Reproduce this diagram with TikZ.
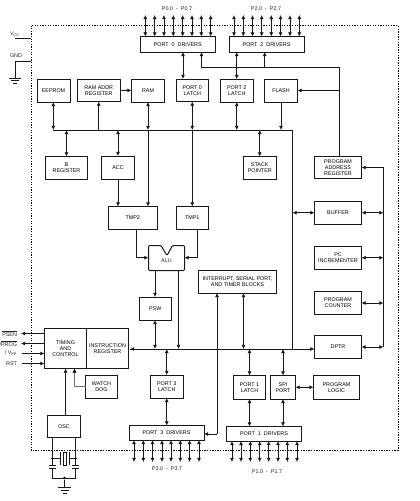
\documentclass[tikz,border=0pt]{standalone}
\usepackage{fontspec}
\setmainfont{Liberation Sans}
\usetikzlibrary{arrows.meta,calc}
\newcommand{\ovl}[1]{\ensuremath{\overline{\mbox{#1}}}}
\newcommand{\bx}[6]{\node[blk,minimum width={(#4-#2)*1pt},minimum height={(#5-#3)*1pt}] (#1) at ({(#2+#4)/2},{(#3+#5)/2}) {#6};}
\tikzset{
  x=1pt,y=-1pt,
  blk/.style={draw=black!90,line width=1pt,inner sep=0pt,outer sep=0pt,align=center,font=\fontsize{5.4}{6}\selectfont},
  lbl/.style={inner sep=0pt,outer sep=0pt,align=center,font=\fontsize{5.4}{6}\selectfont,text=black!85},
  wire/.style={draw=black!90,line width=0.9pt,>={Latex[length=4.2pt,width=4.2pt]}},
  thin wire/.style={draw=black!55,line width=0.5pt,-{Latex[length=4.2pt,width=4.2pt,black]}},
  frame/.style={draw=black,line width=0.9pt,dash pattern=on 1.3pt off 1.3pt},
  dotn/.style={circle,fill=black,inner sep=0pt,minimum size=2.6pt}
}
\begin{document}
\begin{tikzpicture}
\useasboundingbox (0,0) rectangle (420,501);
\fill[white] (0,0) rectangle (420,501);
\draw[frame] (31,25.5) rectangle (398,450);
% boxes
\bx{pzd}{140}{36.5}{215.5}{52}{PORT\ \ 0\ \ DRIVERS}
\bx{ptd}{229}{36.5}{304}{52}{PORT\ \ 2\ \ DRIVERS}
\bx{eeprom}{37}{79}{70}{102}{EEPROM}
\bx{addr}{77.5}{79}{120}{101.5}{RAM ADDR\\REGISTER}
\bx{ram}{131.5}{79}{164.5}{102}{RAM}
\bx{pzl}{176}{79}{208.5}{101.5}{PORT 0\\LATCH}
\bx{ptl}{220}{79}{253.5}{102}{PORT 2\\LATCH}
\bx{flash}{264.5}{79}{297.5}{102}{FLASH}
\bx{breg}{45.5}{156.5}{87.5}{179}{B\\REGISTER}
\bx{acc}{101.5}{156}{134.5}{179}{ACC}
\bx{stack}{243}{156.5}{276.5}{179.5}{STACK\\POINTER}
\bx{par}{314.5}{156}{361.5}{178.5}{PROGRAM\\ADDRESS\\REGISTER}
\bx{buffer}{314.5}{201.5}{361.5}{224}{BUFFER}
\bx{pcinc}{314.5}{246.5}{361.5}{269}{PC\\INCREMENTER}
\bx{pc}{314.5}{291.5}{361.5}{314.5}{PROGRAM\\COUNTER}
\bx{dptr}{314.5}{335}{361.5}{358.5}{DPTR}
\bx{tmpb}{108.5}{206.5}{157}{229}{TMP2}
\bx{tmpa}{176}{206.5}{208.5}{229}{TMP1}
\bx{psw}{139}{297}{171.5}{320}{PSW}
\bx{intr}{198.5}{270}{276.5}{293}{INTERRUPT, SERIAL PORT,\\AND TIMER BLOCKS}
\bx{timing}{44.5}{328.5}{86.5}{368.5}{TIMING\\AND\\CONTROL}
\bx{instr}{86.5}{328.5}{128.5}{368.5}{INSTRUCTION\\REGISTER}
\bx{wdog}{85.5}{375}{117.5}{398}{WATCH\\DOG}
\bx{osc}{47.5}{415}{80.5}{437.5}{OSC}
\bx{pthl}{150}{375}{183.5}{398}{PORT 3\\LATCH}
\bx{pthd}{129}{425.5}{204}{440}{PORT\ \ 3\ \ DRIVERS}
\bx{pol}{233.5}{375.5}{265.5}{399}{PORT 1\\LATCH}
\bx{spi}{270.5}{375.5}{295.5}{399}{SPI\\PORT}
\bx{pod}{226.5}{426.5}{301.5}{441}{PORT\ \ 1\ \ DRIVERS}
\bx{logic}{313.5}{375.5}{359.5}{399}{PROGRAM\\LOGIC}
% ALU
\draw[blk,rounded corners=1pt] (148.5,245.5) -- (161,245.5) -- (167,255.5) -- (172.5,245.5) -- (184.5,245.5) -- (184.5,270.5) -- (148.5,270.5) -- cycle;
\node[lbl] (alu) at (166.5,261) {ALU};
\coordinate (aluL) at (148.5,257.7);
\coordinate (aluR) at (184.5,257.7);
\coordinate (aluBa) at (155,270.5);
\coordinate (aluBb) at (178.5,270.5);
% labels
\node[lbl] (pzlab) at (177,9) {P0.0\ \ -\ \ P0.7};
\node[lbl] (ptlab) at (266,9) {P2.0\ \ -\ \ P2.7};
\node[lbl] (pthlab) at (167,469) {P3.0\ \ -\ \ P3.7};
\node[lbl] (polab) at (267,472) {P1.0\ \ -\ \ P1.7};
\node[lbl,anchor=west] (vcc) at (10,34) {V\textsubscript{CC}};
\node[lbl,anchor=west] (gnd) at (10,56) {GND};
\node[lbl,anchor=east] (psen) at (17,333.5) {\ovl{PSEN}};
\node[lbl,anchor=east] (prog) at (17,343.5) {/\ovl{PROG}};
\node[lbl,anchor=east] (vpp) at (17,353.5) {/ V\textsubscript{PP}};
\node[lbl,anchor=east] (rst) at (17,363.5) {RST};
% bus points
\coordinate (busW) at (53.3,130);
\coordinate (busE) at (292.5,130);
\coordinate (lowW) at (130,349);
\coordinate (lowE) at (292.5,349);
\coordinate (rbusN) at (383.5,167.5);
\coordinate (rbusS) at (383.5,347);
\coordinate (topE) at (339,67.5);
\coordinate (topW) at (201.5,67.5);
% power
\draw[wire] (31,38.5) -- (15,38.5);
\draw[wire] (31,61) -- (15,61) -- (15,78) coordinate (gndp);
\draw[wire] ($(gndp)+(-6,0)$) -- ($(gndp)+(6,0)$);
\draw[wire] ($(gndp)+(-4,2.5)$) -- ($(gndp)+(4,2.5)$);
\draw[wire] ($(gndp)+(-2,5)$) -- ($(gndp)+(2,5)$);
% pin arrows
\foreach \x in {145.3,154.7,164,173.3,182.7,192,201.3,210.7}{\draw[wire,<->] (\x,15) -- (\x,36.5);}
\foreach \x in {234,243.3,252.5,261.7,271.3,280.5,290,299.3}{\draw[wire,<->] (\x,15) -- (\x,36.5);}
\foreach \x in {134,143.3,152.5,162,171,180.3,189.5,199}{\draw[wire,<->] (\x,440) -- (\x,462);}
\foreach \x in {232,241,250.3,259.7,268.7,278,287.3,297}{\draw[wire,<->] (\x,441) -- (\x,462);}
% main bus
\draw[wire] (busW) -- (busE) -- (lowE);
\draw[wire,->] (lowW) -- (dptr.west |- lowW);
\draw[wire,->] (lowE |- lowW) -- (lowW);
\draw[wire,<->] (eeprom.south -| busW) -- (busW);
\draw[wire,<-] (addr.south) -- (addr.south |- busW);
\draw[wire,->] (addr.east) -- (ram.west);
\draw[wire,<->] (breg.north) -- (breg.north |- busW);
\draw[wire,<->] (acc.north) -- (acc.north |- busW);
\draw[wire,<->] (ram.south) -- (ram.south |- busW);
\draw[wire,->] (ram.south |- busW) -- (ram.south |- tmpb.north);
\draw[wire,<->] (pzl.south) -- (pzl.south |- busW);
\draw[wire,->] (pzl.south |- busW) -- (pzl.south |- tmpa.north);
\draw[wire,<->] (ptl.south) -- (ptl.south |- busW);
\draw[wire,->] (flash.south) -- (flash.south |- busW);
\draw[wire,<->] (stack.north) -- (stack.north |- busW);
\draw[wire,->] (acc.south) -- (acc.south |- tmpb.north);
% drivers
\draw[wire,<->] (pzl.north -| 183,0) -- (pzd.south -| 183,0);
\draw[wire,<->] (ptl.north) -- (ptl.north |- ptd.south);
\draw[wire,->] (topW) -- (topW |- pzd.south);
\draw[wire,->] (264.7,67.5) -- (264.7,52);
\draw[wire] (topW) -- (topE) -- (topE |- par.north);
\draw[wire,->] (topE |- flash.east) -- (flash.east);
% right side
\draw[wire] (rbusN) -- (rbusS);
\draw[wire,->] (rbusN) -- (par.east |- rbusN);
\draw[wire,<->] (buffer.east) -- (buffer.east -| rbusN);
\draw[wire,<->] (pcinc.east) -- (pcinc.east -| rbusN);
\draw[wire,<->] (pc.east) -- (pc.east -| rbusN);
\draw[wire,<->] (dptr.east |- rbusS) -- (rbusS);
\draw[wire,<->] (buffer.west) -- (buffer.west -| busE);
% ALU links
\draw[wire,->] (136.5,229) -- (136.5,257.7) -- (aluL);
\draw[wire,->] (197.5,229) -- (197.5,257.7) -- (aluR);
\draw[wire,->] (aluBa) -- (aluBa |- psw.north);
\draw[wire,->] (aluBb) -- (aluBb |- lowW);
\draw[wire,<->] (aluBa |- psw.south) -- (aluBa |- lowW);
% interrupts
\draw[wire,->] (217,434) -- (217,293);
\draw[wire,->] (217,434) -- (pthd.east |- 0,434);
\draw[wire,<->] (243.5,293) -- (243.5,349);
% lower
\draw[wire,<->] (pthl.north) -- (pthl.north |- lowW);
\draw[wire,<->] (pthl.south) -- (pthl.south |- pthd.north);
\draw[wire,<->] (pol.north) -- (pol.north |- lowW);
\draw[wire,<->] (pol.south) -- (pol.south |- pod.north);
\draw[wire,<->] (spi.north) -- (spi.north |- lowW);
\draw[wire,<->] (spi.south) -- (spi.south |- pod.north);
\draw[wire,<->] (spi.east) -- (logic.west);
% pins left
\draw[wire,->] (timing.west |- psen) -- ($(psen.east)+(4,0)$);
\draw[wire,->] (timing.west |- prog) -- ($(prog.east)+(4,0)$);
\draw[wire,->] ($(vpp.east)+(5,0)$) -- (timing.west |- vpp);
\draw[wire,->] ($(rst.east)+(5,0)$) -- (timing.west |- rst);
% watchdog, osc
\draw[thin wire] (wdog.west) -- (74.5,386.5) -- (74.5,368.5);
\draw[wire,->] (osc.north -| timing.south) -- (timing.south);
% crystal
\coordinate (ol) at (52.5,437.5);
\coordinate (or) at (75.5,437.5);
\node[dotn] (dl) at (52.5,458.5) {};
\node[dotn] (dr) at (75.5,458.5) {};
\node[dotn] (dm) at (64.5,478) {};
\draw[wire] (ol) -- (52.5,465.5);
\draw[wire] (or) -- (75.5,465.5);
\draw[wire] (dl) -- (60,458.5);
\draw[wire] (dr) -- (69.5,458.5);
\draw[wire] (60,452) -- (60,465);
\draw[wire] (69.5,452) -- (69.5,465);
\draw[wire,fill=white] (63,452) rectangle (66.5,465);
\draw[wire] (49,465.5) -- (56,465.5);
\draw[wire] (72,465.5) -- (79,465.5);
\draw[wire] (49,468.5) -- (56,468.5);
\draw[wire] (72,468.5) -- (79,468.5);
\draw[wire] (52.5,468.5) -- (52.5,478) -- (75.5,478) -- (75.5,468.5);
\draw[wire] (dm) -- (64.5,487);
\draw[wire] (58,487) -- (71,487);
\draw[wire] (60.5,490) -- (68.5,490);
\draw[wire] (62.5,493) -- (66.5,493);
\end{tikzpicture}
\end{document}
